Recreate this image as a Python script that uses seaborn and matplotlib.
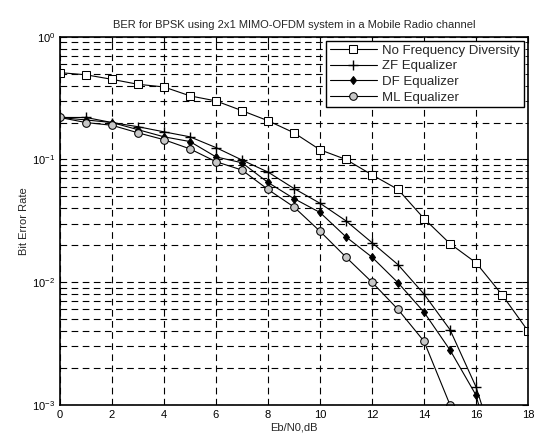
import numpy as np
import pandas as pd
import matplotlib
matplotlib.use('Agg')
import matplotlib.pyplot as plt
import seaborn as sns

# Eb/N0 的取值（dB）
ebn0 = list(range(0, 19))
ebn0_ml = list(range(0, 16))
ebn0_eq = list(range(0, 18))

# 各曲线的误码率
ber_nodiv = [0.51, 0.49, 0.45, 0.41, 0.39, 0.33, 0.30, 0.25, 0.207, 0.165,
             0.12, 0.10, 0.075, 0.057, 0.033, 0.0206, 0.0144, 0.0079, 0.0040]
ber_zf = [0.22, 0.22, 0.20, 0.185, 0.168, 0.153, 0.125, 0.099, 0.079, 0.058,
          0.044, 0.0316, 0.021, 0.0139, 0.0080, 0.0041, 0.0014, 0.0003]
ber_df = [0.22, 0.21, 0.20, 0.175, 0.153, 0.14, 0.105, 0.094, 0.065, 0.048,
          0.037, 0.0234, 0.016, 0.0099, 0.0057, 0.0028, 0.0012, 0.0002]
ber_ml = [0.22, 0.20, 0.19, 0.165, 0.145, 0.122, 0.096, 0.082, 0.057, 0.041,
          0.026, 0.016, 0.010, 0.006, 0.0033, 0.001]

labels = ['No Frequency Diversity', 'ZF Equalizer', 'DF Equalizer', 'ML Equalizer']

sns.set_style('white')
plt.rcParams['font.family'] = ['Liberation Sans', 'DejaVu Sans']

fig = plt.figure(figsize=(5.35, 4.43), dpi=100)
ax = fig.add_axes([0.112, 0.086, 0.875, 0.831])

series = [
    (ebn0, ber_nodiv, dict(marker='s', markersize=6, markerfacecolor='white')),
    (ebn0_eq, ber_zf, dict(marker='+', markersize=7, markeredgewidth=1.0)),
    (ebn0_eq, ber_df, dict(marker='d', markersize=4.5, markerfacecolor='black')),
    (ebn0_ml, ber_ml, dict(marker='o', markersize=5.5, markerfacecolor='#c8c8c8')),
]
for (x, y, kw), lab in zip(series, labels):
    df = pd.DataFrame({'x': x, 'y': y})
    sns.lineplot(data=df, x='x', y='y', ax=ax, color='black', linewidth=0.8,
                 markeredgecolor='black', label=lab, **kw)

ax.set_yscale('log')
ax.set_xlim(0, 18)
ax.set_ylim(1e-3, 1)
ax.set_xticks(range(0, 19, 2))

ax.grid(True, which='major', axis='x', color='black', linestyle=(0, (6, 4)), linewidth=0.8)
ax.grid(True, which='both', axis='y', color='black', linestyle=(0, (6, 4)), linewidth=0.8)
ax.tick_params(which='both', direction='in', top=True, right=True, labelsize=8, colors='black')
ax.tick_params(which='major', length=4)
ax.tick_params(which='minor', length=2)
for s in ax.spines.values():
    s.set_color('black')
    s.set_linewidth(1.2)

ax.set_title('BER for BPSK using 2x1 MIMO-OFDM system in a Mobile Radio channel', fontsize=8, pad=6)
ax.set_xlabel('Eb/N0,dB', fontsize=8, labelpad=2)
ax.set_ylabel('Bit Error Rate', fontsize=8, labelpad=2)

leg = ax.legend(loc='upper right', fontsize=9.5, frameon=True, fancybox=False,
                edgecolor='black', framealpha=1, borderpad=0.3, labelspacing=0.25,
                handlelength=3.6, handletextpad=0.4, borderaxespad=0.3)
leg.get_frame().set_linewidth(1.0)

fig.savefig('out.png', dpi=100)
